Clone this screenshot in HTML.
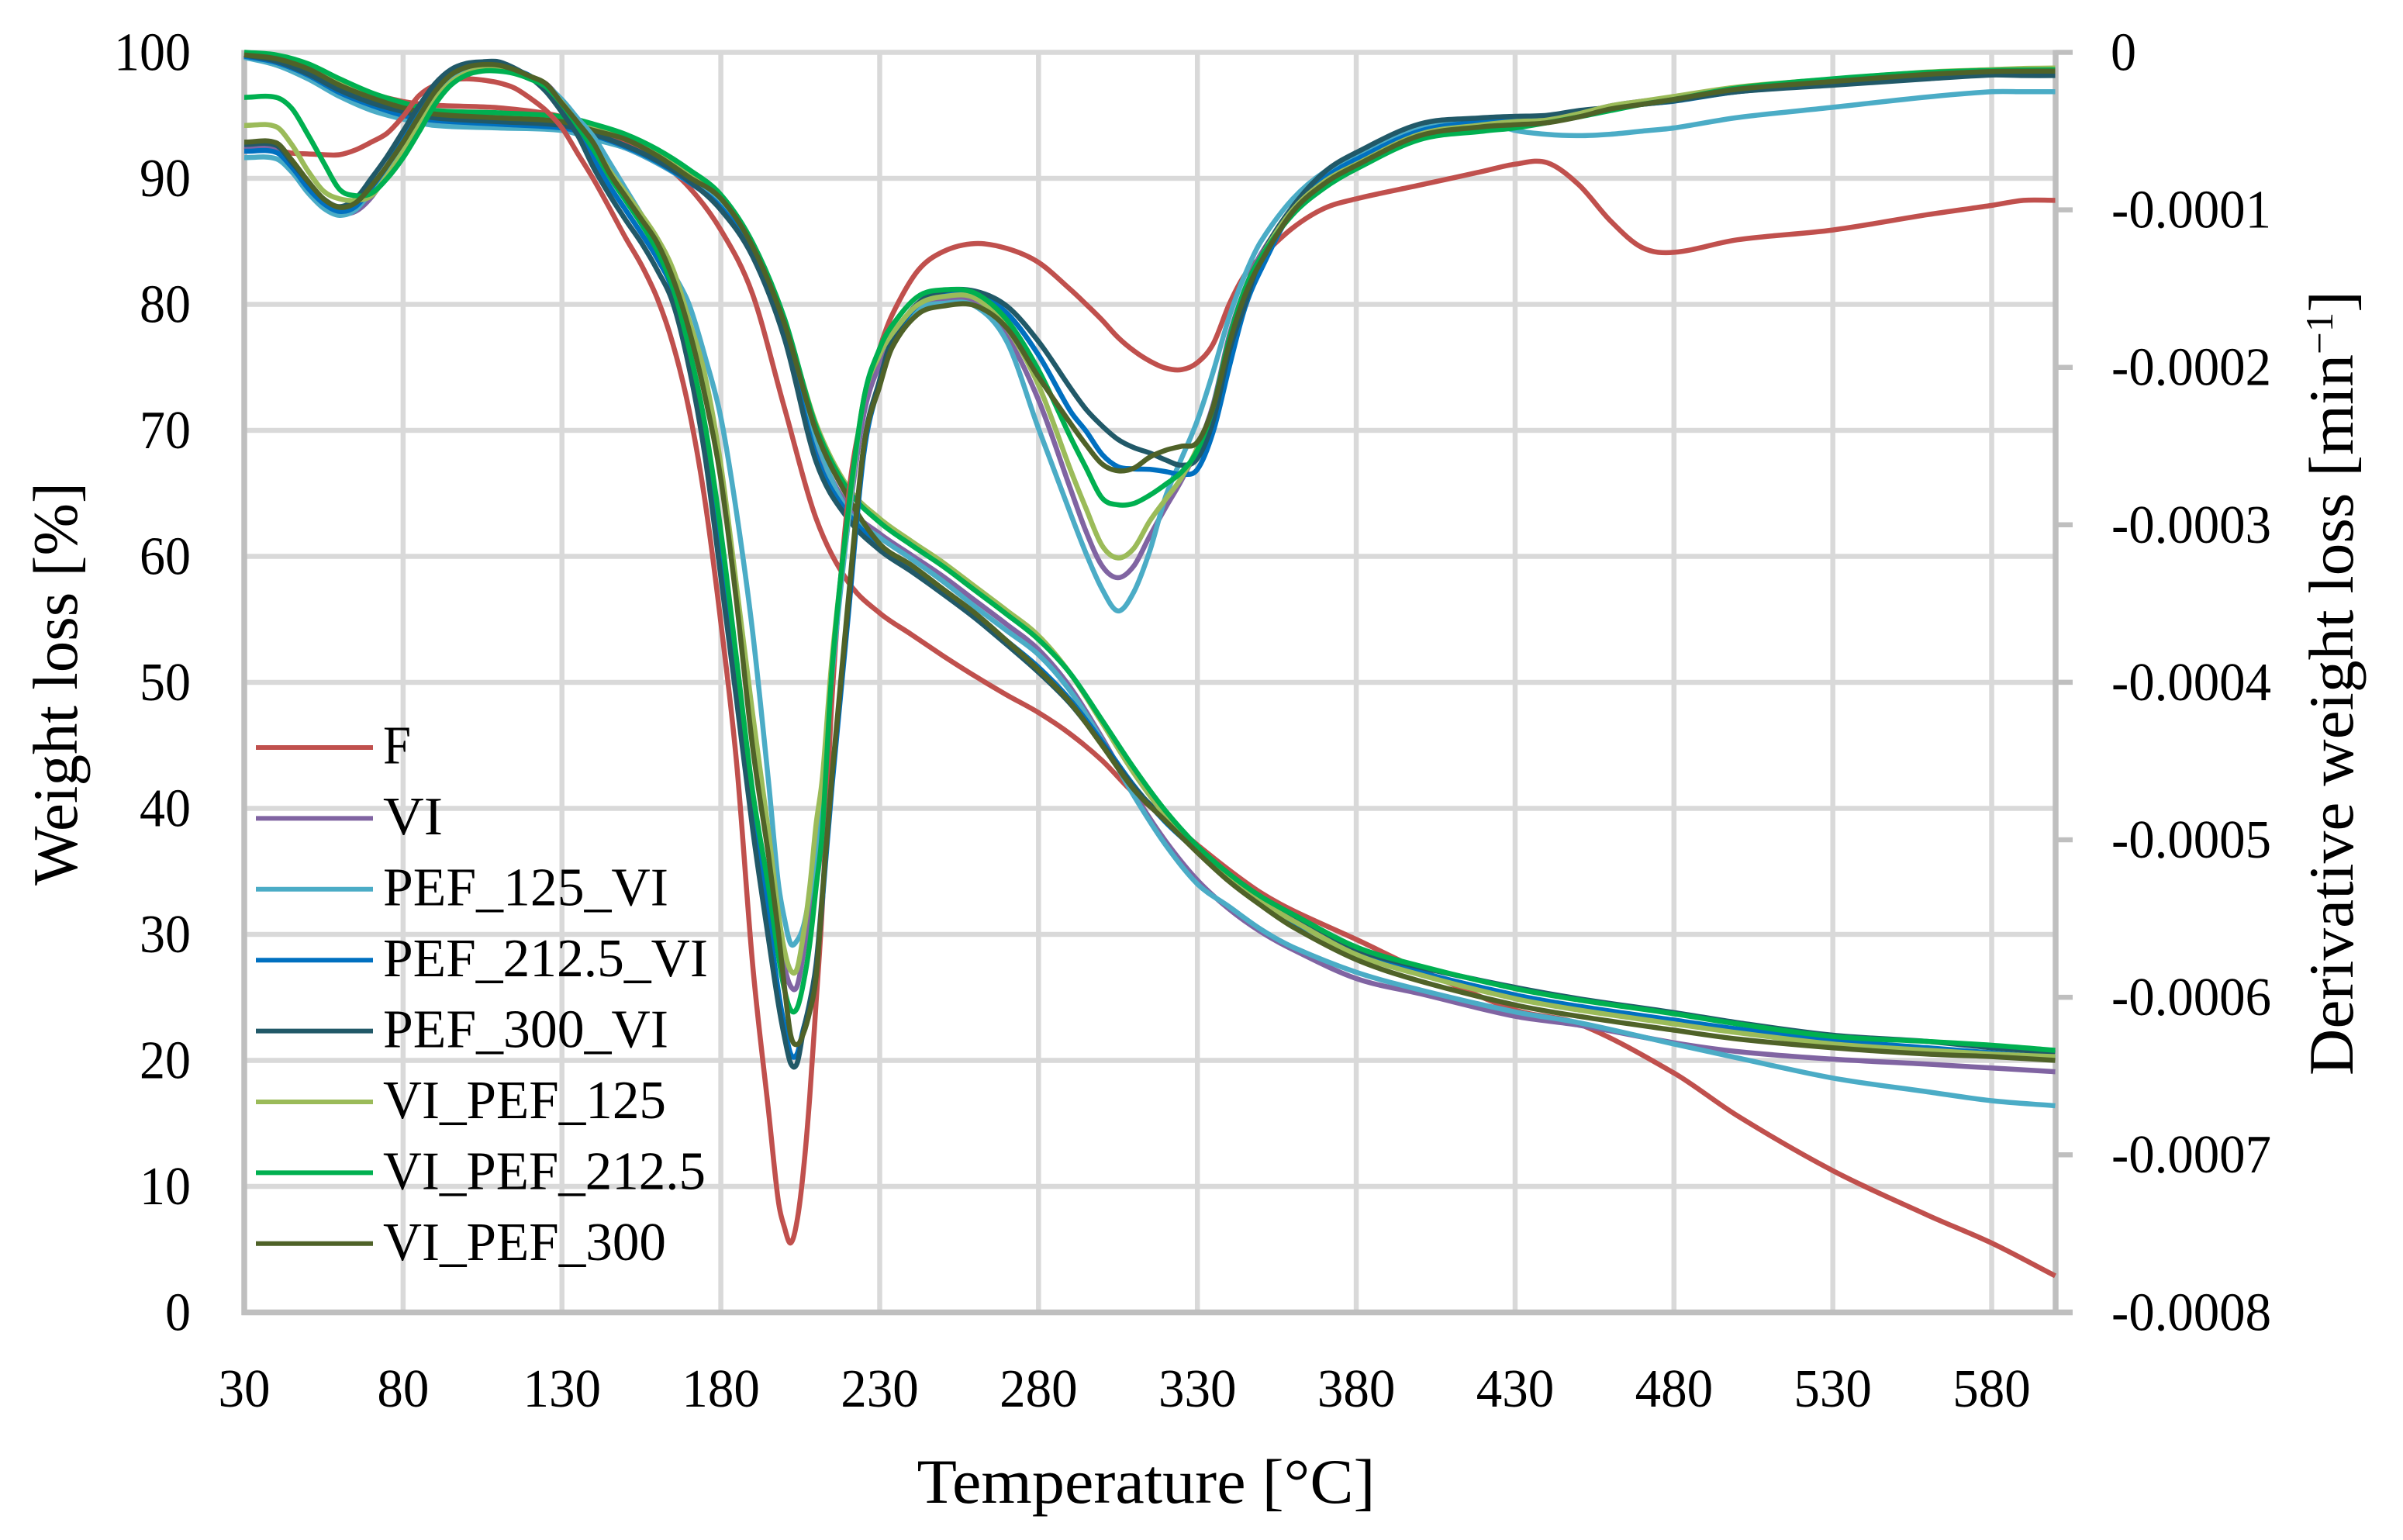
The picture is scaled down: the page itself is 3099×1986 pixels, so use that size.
<!DOCTYPE html>
<html lang="en">
<head>
<meta charset="utf-8">
<title>Weight loss and derivative weight loss vs temperature</title>
<style>
html,body{margin:0;padding:0;background:#fff;width:3099px;height:1986px;overflow:hidden}
svg{display:block}
text{font-family:"Liberation Serif",serif;fill:#000}
</style>
</head>
<body>
<svg id="chart" xmlns="http://www.w3.org/2000/svg" width="3099" height="1986" viewBox="0 0 3099 1986">
  <rect x="0" y="0" width="3099" height="1986" fill="#ffffff"/>
  <g id="grid"></g>
  <g id="axes"></g>
  <g id="series"></g>
  <g id="ticks"></g>

  <text x="1478" y="1938" font-size="82" text-anchor="middle" textLength="591" lengthAdjust="spacingAndGlyphs">Temperature [°C]</text>
  <text transform="translate(99,882) rotate(-90)" font-size="82" text-anchor="middle" textLength="520" lengthAdjust="spacingAndGlyphs">Weight loss [%]</text>
  <text transform="translate(3034,881) rotate(-90)" font-size="82" text-anchor="middle" textLength="1012" lengthAdjust="spacingAndGlyphs">Derivative weight loss [min<tspan dy="-26" font-size="50">−1</tspan><tspan dy="26">]</tspan></text>

  <g font-size="70">
    <g><line x1="330" x2="481" y1="964" y2="964" stroke="#C0504D" stroke-width="6"/><text x="494" y="984.5" textLength="36" lengthAdjust="spacingAndGlyphs">F</text></g>
    <g><line x1="330" x2="481" y1="1055.4" y2="1055.4" stroke="#8064A2" stroke-width="6"/><text x="494" y="1076" textLength="77" lengthAdjust="spacingAndGlyphs">VI</text></g>
    <g><line x1="330" x2="481" y1="1146.8" y2="1146.8" stroke="#4BACC6" stroke-width="6"/><text x="494" y="1167.5" textLength="368" lengthAdjust="spacingAndGlyphs">PEF_125_VI</text></g>
    <g><line x1="330" x2="481" y1="1238.2" y2="1238.2" stroke="#0070C0" stroke-width="6"/><text x="494" y="1259" textLength="419" lengthAdjust="spacingAndGlyphs">PEF_212.5_VI</text></g>
    <g><line x1="330" x2="481" y1="1329.6" y2="1329.6" stroke="#215968" stroke-width="6"/><text x="494" y="1350.5" textLength="368" lengthAdjust="spacingAndGlyphs">PEF_300_VI</text></g>
    <g><line x1="330" x2="481" y1="1421" y2="1421" stroke="#9BBB59" stroke-width="6"/><text x="494" y="1442" textLength="365" lengthAdjust="spacingAndGlyphs">VI_PEF_125</text></g>
    <g><line x1="330" x2="481" y1="1512.4" y2="1512.4" stroke="#00B050" stroke-width="6"/><text x="494" y="1533.5" textLength="416" lengthAdjust="spacingAndGlyphs">VI_PEF_212.5</text></g>
    <g><line x1="330" x2="481" y1="1603.8" y2="1603.8" stroke="#4F6228" stroke-width="6"/><text x="494" y="1625" textLength="365" lengthAdjust="spacingAndGlyphs">VI_PEF_300</text></g>
  </g>
</svg>
<script>
// Axis tick labels
const xTicks = [30,80,130,180,230,280,330,380,430,480,530,580];
const leftTicks = [0,10,20,30,40,50,60,70,80,90,100];
const rightTicks = ["0","-0.0001","-0.0002","-0.0003","-0.0004","-0.0005","-0.0006","-0.0007","-0.0008"];

// Weight loss (left axis, %) sampled at these temperatures (°C)
const tgTemps = [30,40,50,60,70,80,90,110,130,140,150,160,170,180,190,200,210,220,230,240,250,260,270,280,290,300,310,320,330,340,350,360,380,400,430,450,480,500,530,560,580,600];
const tgF = [99.8,99,98.2,97.4,96.7,96.1,95.8,95.6,94.9,93.9,92.9,91.5,89.3,85.9,80.8,71.8,63,58,55.5,53.8,52.1,50.5,49,47.6,45.9,43.8,41.2,39.2,37.1,35.1,33.3,31.9,29.6,27.2,24,22.9,19,15.6,11.25,7.7,5.5,2.9];
const tgVI = [99.7,99.1,98,96.6,95.6,94.9,94.4,94.2,93.9,93.2,92.4,91.2,89.7,87.9,84.2,77.9,69,64,61.8,60.1,58.4,56.5,54.6,52.6,49.6,45.6,41.2,37.4,34.3,32,30.2,28.8,26.5,25.3,23.5,22.8,21.4,20.7,20.1,19.7,19.4,19.1];
const tgPef125 = [99.6,99,97.9,96.5,95.4,94.7,94.2,94,93.8,93.1,92.4,91.2,89.7,87.9,84.3,78.2,69.3,63.6,61.5,59.8,58,56,54.1,52.2,49.3,45.4,41,37.1,34,32.2,30.4,29,27,25.6,23.85,23,21.3,20.2,18.6,17.5,16.8,16.4];
const tgPef212 = [99.7,99.2,98.2,96.8,95.8,95,94.6,94.3,94,93.4,92.5,91.3,89.7,87.7,84,77.6,68,63.4,60.9,59.2,57.3,55.4,53.3,51.2,48.6,45.3,41.8,38.9,36.6,34.4,32.5,31,28.6,27,25.2,24.3,23.2,22.5,21.6,21,20.6,20.2];
const tgPef300 = [99.8,99.3,98.3,97,96,95.3,94.8,94.5,94.2,93.5,92.6,91.4,89.8,87.5,83.8,77.3,67.5,63,60.5,58.8,57,55.1,53,50.8,48.3,45.1,41.7,39.1,36.8,34.7,32.8,31.3,28.8,27.4,25.8,24.9,23.8,23,22,21.5,21,20.6];
const tgVi125 = [100,99.6,98.8,97.6,96.5,95.8,95.2,95,94.7,94,93.2,92,90.3,88.4,84.7,78.7,70.5,65.5,63,61.2,59.5,57.6,55.7,53.7,50.7,46.8,42.8,39.4,36.7,34.4,32.6,31.1,28.4,26.8,24.9,24,22.9,22.2,21.3,20.8,20.5,20.3];
const tgVi212 = [100,99.8,99.1,97.9,96.8,96,95.4,95.2,94.9,94.3,93.5,92.3,90.7,88.7,84.9,78.9,70.3,65.3,62.7,60.9,59.2,57.3,55.4,53.4,50.7,47,43.2,39.8,37,34.8,33,31.6,29,27.5,25.7,24.8,23.7,22.9,21.9,21.5,21.2,20.8];
const tgVi300 = [99.8,99.5,98.7,97.4,96.4,95.6,95.1,94.8,94.5,93.8,93.1,91.8,90.1,88.4,84.6,78.5,69.9,64.7,61,59.3,57.4,55.5,53.3,51,48.4,45,41.5,39,36.5,34.2,32.3,30.6,28,26.3,24.4,23.5,22.4,21.7,21,20.5,20.3,20];

// Derivative weight loss (right axis, in units of -0.0001 min-1) at these temperatures (°C)
const dtgTemps = [30,40,45,50,55,60,65,70,75,80,85,90,95,100,105,110,115,120,125,130,135,140,145,150,155,160,165,170,175,180,185,190,195,198,200,202,204,206,208,210,212,215,220,225,230,234,242,250,260,270,280,290,295,300,305,310,315,320,325,330,335,340,345,350,360,370,380,400,420,430,440,450,460,470,480,500,530,560,580,590,600];
const dtgF = [0.60,0.62,0.64,0.645,0.65,0.65,0.62,0.57,0.513,0.406,0.275,0.209,0.176,0.168,0.176,0.193,0.226,0.291,0.37,0.48,0.644,0.808,0.99,1.177,1.35,1.563,1.857,2.27,2.846,3.62,4.52,5.79,6.72,7.28,7.46,7.56,7.42,7.1,6.63,6.03,5.4,4.1,2.85,2.25,1.88,1.663,1.387,1.265,1.214,1.245,1.334,1.505,1.6,1.70,1.81,1.895,1.96,2.005,2.015,1.97,1.85,1.6,1.41,1.30,1.115,0.99,0.93,0.843,0.755,0.71,0.70,0.84,1.07,1.24,1.27,1.19,1.128,1.03,0.972,0.94,0.94];
const dtgVI = [0.603,0.61,0.72,0.85,0.96,1.02,1.01,0.92,0.77,0.60,0.44,0.28,0.17,0.11,0.09,0.09,0.12,0.165,0.2,0.31,0.44,0.58,0.75,0.9,1.04,1.2,1.4,1.72,2.1,2.7,3.45,4.3,5.05,5.55,5.8,5.93,5.93,5.72,5.42,5.02,4.65,3.9,3.0,2.3,1.98,1.836,1.629,1.577,1.594,1.802,2.208,2.769,3.045,3.261,3.336,3.261,3.071,2.89,2.717,2.51,2.233,1.80,1.5,1.28,1.0,0.80,0.70,0.50,0.45,0.44,0.43,0.39,0.34,0.31,0.285,0.23,0.18,0.135,0.12,0.115,0.115];
const dtgPef125 = [0.668,0.675,0.76,0.89,0.99,1.035,1.0,0.88,0.74,0.58,0.41,0.26,0.16,0.11,0.095,0.1,0.125,0.17,0.21,0.3,0.42,0.537,0.70,0.866,1.03,1.2,1.4,1.6,1.93,2.318,2.93,3.68,4.63,5.26,5.5,5.66,5.64,5.55,5.35,5.1,4.7,3.95,3.0,2.2,1.9,1.853,1.637,1.594,1.611,1.836,2.389,2.925,3.184,3.408,3.547,3.426,3.166,2.821,2.579,2.337,2.026,1.68,1.41,1.2,0.931,0.759,0.66,0.488,0.439,0.496,0.521,0.529,0.52,0.50,0.48,0.414,0.349,0.283,0.25,0.25,0.25];
const dtgPef212 = [0.628,0.635,0.73,0.86,0.96,1.01,0.98,0.86,0.72,0.55,0.38,0.23,0.13,0.09,0.07,0.08,0.11,0.15,0.24,0.35,0.49,0.68,0.85,1.0,1.15,1.31,1.52,1.93,2.44,3.18,3.95,4.75,5.5,5.95,6.18,6.36,6.36,6.2,6.05,5.83,5.38,4.66,3.6,2.55,2.1,1.836,1.603,1.534,1.534,1.655,1.922,2.277,2.406,2.553,2.631,2.645,2.648,2.662,2.679,2.648,2.406,2.0,1.62,1.38,1.0,0.8,0.68,0.5,0.44,0.43,0.42,0.39,0.36,0.33,0.31,0.25,0.2,0.15,0.13,0.125,0.125];
const dtgPef300 = [0.585,0.59,0.70,0.82,0.93,0.98,0.93,0.80,0.66,0.50,0.34,0.20,0.11,0.07,0.06,0.06,0.10,0.16,0.25,0.381,0.529,0.734,0.907,1.063,1.21,1.383,1.596,2.0,2.56,3.33,4.12,4.93,5.63,6.03,6.25,6.42,6.42,6.21,6.03,5.79,5.33,4.6,3.55,2.5,2.08,1.819,1.594,1.516,1.516,1.611,1.836,2.13,2.268,2.372,2.458,2.51,2.544,2.588,2.622,2.579,2.337,1.9,1.6,1.3,0.98,0.76,0.636,0.455,0.415,0.406,0.40,0.37,0.35,0.33,0.308,0.25,0.209,0.168,0.144,0.147,0.147];
const dtgVi125 = [0.464,0.472,0.587,0.751,0.882,0.93,0.94,0.91,0.78,0.63,0.46,0.30,0.19,0.13,0.105,0.105,0.12,0.16,0.21,0.32,0.45,0.59,0.75,0.89,1.03,1.18,1.38,1.70,2.05,2.62,3.4,4.2,4.95,5.45,5.7,5.83,5.82,5.6,5.3,4.9,4.6,3.85,2.95,2.2,1.92,1.784,1.603,1.551,1.56,1.75,2.113,2.648,2.899,3.132,3.21,3.149,2.976,2.838,2.7,2.51,2.25,1.83,1.51,1.3,1.0,0.82,0.71,0.52,0.46,0.44,0.43,0.39,0.34,0.31,0.28,0.22,0.17,0.125,0.11,0.102,0.10];
const dtgVi212 = [0.286,0.286,0.357,0.521,0.70,0.87,0.91,0.895,0.80,0.669,0.505,0.332,0.209,0.144,0.119,0.119,0.135,0.17,0.22,0.33,0.47,0.62,0.79,0.94,1.09,1.26,1.5,1.88,2.36,3.04,3.86,4.69,5.3,5.72,5.95,6.08,6.07,5.91,5.66,5.30,4.93,3.92,2.93,2.2,1.88,1.732,1.551,1.508,1.529,1.698,2.017,2.441,2.64,2.83,2.873,2.864,2.812,2.743,2.665,2.527,2.25,1.82,1.5,1.3,1.03,0.86,0.74,0.554,0.50,0.48,0.447,0.41,0.37,0.33,0.299,0.226,0.168,0.127,0.114,0.112,0.111];
const dtgVi300 = [0.570,0.574,0.685,0.816,0.931,0.984,0.956,0.849,0.718,0.570,0.406,0.25,0.144,0.094,0.078,0.081,0.11,0.152,0.201,0.324,0.447,0.578,0.767,0.915,1.06,1.21,1.44,1.76,2.18,2.71,3.5,4.41,5.1,5.57,5.93,6.24,6.30,6.23,6.09,5.87,5.35,4.59,3.5,2.5,2.12,1.871,1.663,1.611,1.608,1.75,2.061,2.354,2.493,2.614,2.657,2.64,2.57,2.527,2.501,2.475,2.25,1.85,1.54,1.33,1.013,0.833,0.718,0.529,0.472,0.46,0.447,0.41,0.36,0.33,0.299,0.234,0.185,0.14,0.122,0.12,0.119];

const seriesNames = ["f","vi","pef-125-vi","pef-212-5-vi","pef-300-vi","vi-pef-125","vi-pef-212-5","vi-pef-300"];
const seriesColors = ["#C0504D","#8064A2","#4BACC6","#0070C0","#215968","#9BBB59","#00B050","#4F6228"];
const tgSeries = [tgF,tgVI,tgPef125,tgPef212,tgPef300,tgVi125,tgVi212,tgVi300];
const dtgSeries = [dtgF,dtgVI,dtgPef125,dtgPef212,dtgPef300,dtgVi125,dtgVi212,dtgVi300];

const NS = "http://www.w3.org/2000/svg";
const xScale = t => 315 + (t - 30) * (2650.5 - 315) / 570;
const yLeft = v => 1692.5 - v * 16.25;
const yRight = d => 67.5 + d * 203.1;

function make(tag, attrs, parent) {
  const el = document.createElementNS(NS, tag);
  for (const k in attrs) el.setAttribute(k, attrs[k]);
  parent.appendChild(el);
  return el;
}

function smoothPath(xs, ys) {
  let d = "M" + xs[0].toFixed(1) + " " + ys[0].toFixed(1);
  const n = xs.length;
  const slope = i => {
    if (i === 0) return (ys[1] - ys[0]) / (xs[1] - xs[0]);
    if (i === n - 1) return (ys[n-1] - ys[n-2]) / (xs[n-1] - xs[n-2]);
    return (ys[i+1] - ys[i-1]) / (xs[i+1] - xs[i-1]);
  };
  for (let i = 0; i < n - 1; i++) {
    const h = (xs[i+1] - xs[i]) / 3;
    d += "C" + (xs[i] + h).toFixed(1) + " " + (ys[i] + slope(i) * h).toFixed(1) + " " +
         (xs[i+1] - h).toFixed(1) + " " + (ys[i+1] - slope(i+1) * h).toFixed(1) + " " +
         xs[i+1].toFixed(1) + " " + ys[i+1].toFixed(1);
  }
  return d;
}

const gridG = document.getElementById("grid");
const axesG = document.getElementById("axes");
const seriesG = document.getElementById("series");
const ticksG = document.getElementById("ticks");

leftTicks.forEach(v => {
  if (v === 0) return;
  const ln = make("line", {x1: 315, x2: 2651, y1: yLeft(v), y2: yLeft(v), stroke: "#d9d9d9", "stroke-width": 6.5}, gridG);
  
  
});
xTicks.forEach(t => {
  if (t === 30) return;
  const ln = make("line", {x1: xScale(t), x2: xScale(t), y1: 64.5, y2: 1692.5, stroke: "#d9d9d9", "stroke-width": 6.5}, gridG);
  
  
});

const leftAxis = make("line", {x1: 315, x2: 315, y1: 64.5, y2: 1696, stroke: "#bfbfbf", "stroke-width": 7.5}, axesG);


const rightAxis = make("line", {x1: 2651, x2: 2651, y1: 64.5, y2: 1696, stroke: "#bfbfbf", "stroke-width": 7.5}, axesG);


const bottomAxis = make("line", {x1: 311.5, x2: 2673, y1: 1692.5, y2: 1692.5, stroke: "#bfbfbf", "stroke-width": 7.5}, axesG);


rightTicks.forEach((lab, i) => {
  const tk = make("line", {x1: 2651, x2: 2673, y1: yRight(i), y2: yRight(i), stroke: "#bfbfbf", "stroke-width": 6.5}, axesG);
  
  
});

seriesNames.forEach((name, i) => {
  const p = make("path", {
    d: smoothPath(tgTemps.map(xScale), tgSeries[i].map(yLeft)),
    fill: "none", stroke: seriesColors[i], "stroke-width": 6.5, "stroke-linejoin": "round"
  }, seriesG);
  
  
});
seriesNames.forEach((name, i) => {
  const p = make("path", {
    d: smoothPath(dtgTemps.map(xScale), dtgSeries[i].map(yRight)),
    fill: "none", stroke: seriesColors[i], "stroke-width": 6.5, "stroke-linejoin": "round"
  }, seriesG);
  
  
});

xTicks.forEach(t => {
  const tx = make("text", {x: xScale(t), y: 1814, "font-size": 70, "text-anchor": "middle", textLength: String(t).length * 33.5, lengthAdjust: "spacingAndGlyphs"}, ticksG);
  tx.textContent = t;
  
  
});
leftTicks.forEach(v => {
  const tx = make("text", {x: 246, y: yLeft(v) + 23, "font-size": 70, "text-anchor": "end", textLength: String(v).length * 33, lengthAdjust: "spacingAndGlyphs"}, ticksG);
  tx.textContent = v;
  
  
});
rightTicks.forEach((lab, i) => {
  const tx = make("text", {x: i === 0 ? 2722 : 2723, y: yRight(i) + 23, "font-size": 70, textLength: i === 0 ? 33 : 206, lengthAdjust: "spacingAndGlyphs"}, ticksG);
  tx.textContent = lab;
  
  
});
</script>
</body>
</html>
